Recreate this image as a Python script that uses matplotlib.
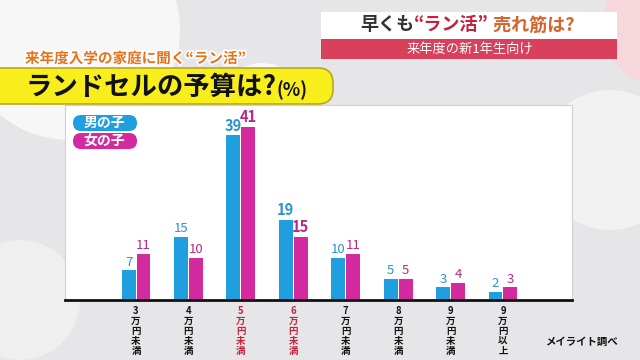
import matplotlib
matplotlib.use('Agg')
import matplotlib.pyplot as plt
from matplotlib.patches import Circle, FancyBboxPatch, Rectangle
import matplotlib.patheffects as pe
import numpy as np

plt.rcParams['font.family'] = ['Noto Sans CJK JP', 'DejaVu Sans']

# data
categories = ['3万円未満', '4万円未満', '5万円未満', '6万円未満',
              '7万円未満', '8万円未満', '9万円未満', '9万円以上']
boys = [7, 15, 39, 19, 10, 5, 3, 2]
girls = [11, 10, 41, 15, 11, 5, 4, 3]
highlight = [False, False, True, True, False, False, False, False]

BLUE = '#1f9fe0'
PINK = '#d42a9f'
BLUE_TXT = '#2b93cc'
PINK_TXT = '#b8288c'
RED = '#c4213d'
ORANGE = '#d4652c'

W, H = 640, 360
fig = plt.figure(figsize=(6.4, 3.6), dpi=100)
fig.patch.set_facecolor('#e6e6e8')

# background layer in pixel coordinates
bg = fig.add_axes([0, 0, 1, 1], zorder=0)
bg.set_xlim(0, W)
bg.set_ylim(H, 0)
bg.axis('off')
for (cx, cy, r, c) in [(70, 30, 110, '#f7f7f7'), (262, 105, 42, '#f8f8f8'),
                       (610, 160, 70, '#f2f2f2'), (20, 300, 60, '#efefef'),
                       (665, 25, 62, '#f6d7dc')]:
    bg.add_patch(Circle((cx, cy), r, color=c, lw=0))

# header box top right
bg.add_patch(Rectangle((321, 12), 296, 27, color='white', lw=0))
bg.add_patch(Rectangle((321, 39), 296, 20, color='#d8405b', lw=0))
bg.text(470, 49.5, '来年度の新1年生向け', color='white', fontsize=9.5,
        ha='center', va='center')

fig.canvas.draw()
rend = fig.canvas.get_renderer()
parts = [('早くも', '#333333'), ('“ラン活”', RED), (' 売れ筋は?', ORANGE)]
x = 360
for s, c in parts:
    t = bg.text(x, 25, s, color=c, fontsize=13, fontweight='bold',
                ha='left', va='center')
    bb = t.get_window_extent(rend)
    x += bb.width

# yellow title band
bg.add_patch(FancyBboxPatch((-20, 68), 353, 36,
                            boxstyle='round,pad=0,rounding_size=15',
                            fc='#f7ee1c', ec='#b8a820', lw=1.2))
t1 = bg.text(26, 87, 'ランドセルの予算は?', fontsize=19, fontweight='bold',
             color='#111111', ha='left', va='center')
bb = t1.get_window_extent(rend)
bg.text(26 + bb.width, 90, '(%)', fontsize=13, fontweight='bold',
        color='#111111', ha='left', va='center')
bg.text(25, 58, '来年度入学の家庭に聞く“ラン活”', fontsize=10.5,
        fontweight='bold', color='#e2741e', ha='left', va='center',
        path_effects=[pe.withStroke(linewidth=2.5, foreground='white')])

bg.text(582, 342, 'メイライト調べ', fontsize=7.5, fontweight='bold',
        color='#111111', ha='center', va='center')

# chart panel
ax = fig.add_axes([65 / W, (H - 300) / H, (572 - 65) / W, (300 - 105) / H], zorder=1)
ax.set_facecolor('white')
xs = np.arange(len(categories))
bw = 0.265
off = 0.142
ax.bar(xs - off, boys, bw, color=BLUE, zorder=2)
ax.bar(xs + off, girls, bw, color=PINK, zorder=2)

for i in xs:
    bold = highlight[i]
    fs = 10.5 if bold else 9.5
    fw = 'bold' if bold else 'normal'
    ax.text(i - off, boys[i] + 0.4, str(boys[i]), color=BLUE_TXT, fontsize=fs,
            fontweight=fw, ha='center', va='bottom')
    ax.text(i + off, girls[i] + 0.4, str(girls[i]), color=PINK_TXT, fontsize=fs,
            fontweight=fw, ha='center', va='bottom')

ax.set_xlim(-1.355, 8.317)
ax.set_ylim(0, 46.2)
ax.set_yticks([])
ax.set_xticks(xs)
ax.set_xticklabels(['\n'.join(c) for c in categories], fontsize=6.8,
                   fontweight='bold', linespacing=1.0)
for lab, h in zip(ax.get_xticklabels(), highlight):
    lab.set_color(RED if h else '#111111')
ax.tick_params(axis='x', length=0, pad=4)
for s in ['left', 'top', 'right']:
    ax.spines[s].set_color('#d0d0d0')
    ax.spines[s].set_linewidth(0.8)
ax.spines['bottom'].set_color('#111111')
ax.spines['bottom'].set_linewidth(2)

# legend pills on top layer
leg = fig.add_axes([0, 0, 1, 1], zorder=2)
leg.set_xlim(0, W)
leg.set_ylim(H, 0)
leg.axis('off')
for y0, lbl, c in [(115, '男の子', BLUE), (133, '女の子', PINK)]:
    leg.add_patch(FancyBboxPatch((73, y0), 64, 16,
                                 boxstyle='round,pad=0,rounding_size=8',
                                 fc=c, ec='none'))
    leg.text(104, y0 + 8, lbl, color='white', fontsize=10, fontweight='bold',
             ha='center', va='center')

fig.savefig('out.png', dpi=100)
